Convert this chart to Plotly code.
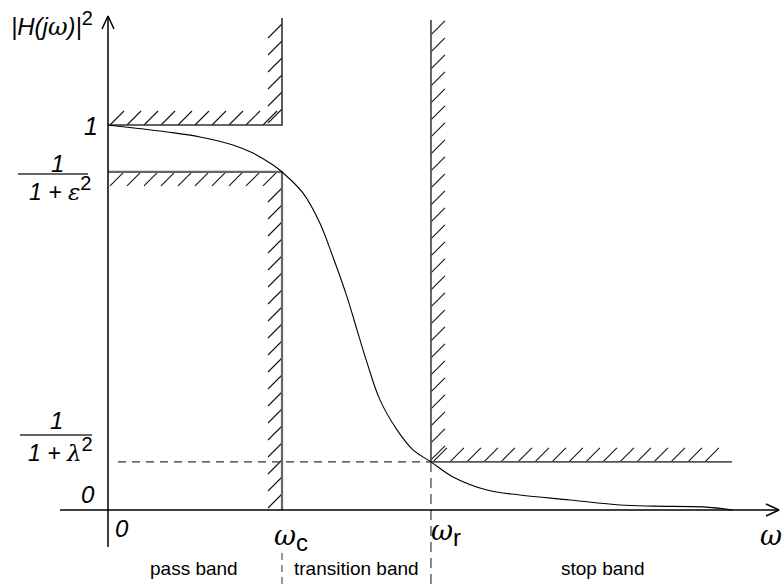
import plotly.graph_objects as go

# ---------------- data (diagram units: omega_c = 1, passband max = 1) ----------------
omega_c = 1.0
omega_r = 1.856
omega_stop_end = 3.586
level_pass = 1.0
level_eps = 0.878          # 1/(1+eps^2)
level_lam = 0.125          # 1/(1+lambda^2)

curve_w = [0.0, 0.339, 0.529, 0.718, 0.833, 0.948, 1.0, 1.121, 1.218, 1.293, 1.374,
           1.431, 1.489, 1.563, 1.661, 1.753, 1.856, 1.983, 2.178, 2.368, 2.655,
           2.943, 3.132, 3.420, 3.592]
curve_h = [1.0, 0.982, 0.969, 0.948, 0.927, 0.896, 0.878, 0.823, 0.745, 0.657, 0.553,
           0.468, 0.382, 0.286, 0.208, 0.156, 0.125, 0.086, 0.052, 0.039, 0.026,
           0.013, 0.010, 0.008, 0.0]

band_labels = ["pass band", "transition band", "stop band"]
band_centers = [0.495, 1.43, 2.84]

# ---------------- scales ----------------
W, H = 784, 585
X0PX, SX = 108, 174.0     # pixel of x=0, pixels per unit
Y0PX, SY = 510, 385.0     # pixel of y=0, pixels per unit
xr = [-X0PX / SX, (W - X0PX) / SX]
yr = [(Y0PX - H) / SY, Y0PX / SY]
px = 1 / SX
py = 1 / SY

fig = go.Figure()

def line(xs, ys, color="black", width=1.0, dash=None, shape="linear"):
    fig.add_trace(go.Scatter(x=xs, y=ys, mode="lines", hoverinfo="skip",
                             line=dict(color=color, width=width, dash=dash, shape=shape),
                             showlegend=False))

# ---------------- hatching ----------------
HL, HS = 14, 17  # stroke size and spacing in px
hx, hy = [], []

def hatch_h(x0, x1, y, side):
    n = int(((x1 - x0) / px - HL) // HS) + 1
    for i in range(n):
        xs = x0 + (2 + i * HS) * px
        if side == "above":
            hx.extend([xs, xs + HL * px, None]); hy.extend([y, y + HL * py, None])
        else:
            hx.extend([xs, xs + HL * px, None]); hy.extend([y - HL * py, y, None])

def hatch_v(x, y0, y1, side):
    n = int(((y1 - y0) / py - HL) // HS) + 1
    for i in range(n):
        ys = y0 + (2 + i * HS) * py
        if side == "right":
            hx.extend([x, x + HL * px, None]); hy.extend([ys, ys + HL * py, None])
        else:
            hx.extend([x - HL * px, x, None]); hy.extend([ys, ys + HL * py, None])

top_c = 1.278
top_r = 1.273
hatch_h(0, omega_c, level_pass, "above")
hatch_v(omega_c, level_pass, top_c, "left")
hatch_h(0, omega_c, level_eps, "below")
hatch_v(omega_c, 0, level_eps - 2 * py, "left")
hatch_v(omega_r, level_lam, top_r, "right")
hatch_h(omega_r, omega_stop_end, level_lam, "above")
line(hx, hy, color="#111", width=1.1)

# boundary lines
line([0, omega_c, omega_c], [level_pass, level_pass, top_c], color="#333", width=1.6)
line([0, omega_c, omega_c], [level_eps, level_eps, 0], color="#666", width=2.2)
line([omega_r, omega_r, omega_stop_end], [top_r, level_lam, level_lam], color="#555", width=1.8)

# dashed guides
line([10 * px, omega_r], [level_lam, level_lam], color="#333", width=1.2, dash="8px,6px")
line([omega_r, omega_r], [level_lam, yr[0]], color="#555", width=1.4, dash="10px,6px")
line([omega_c, omega_c], [(Y0PX - 553) / SY, yr[0]], color="#555", width=1.2, dash="7px,5px")

# axes
x_start, x_end = (60 - X0PX) / SX, (779 - X0PX) / SX
y_bottom, y_top = (Y0PX - 547) / SY, (Y0PX - 16) / SY
line([x_start, x_end], [0, 0], width=1.5)
line([0, 0], [y_bottom, y_top], width=1.5)
line([x_end - 13 * px, x_end, x_end - 13 * px], [6 * py, 0, -6 * py], width=1.5)
line([-6 * px, 0, 6 * px], [y_top - 13 * py, y_top, y_top - 13 * py], width=1.5)

# response curve
line(curve_w, curve_h, width=1.1, shape="spline")

# ---------------- text ----------------
SANS = "Liberation Sans, Arial, sans-serif"
SERIF = "DejaVu Serif, Liberation Serif, serif"

def txt(xp, yp, text, size=22, family=SANS, xanchor="center"):
    fig.add_annotation(x=(xp - X0PX) / SX, y=(Y0PX - yp) / SY, text=text, showarrow=False,
                       xanchor=xanchor, yanchor="middle",
                       font=dict(size=size, family=family, color="black"))

sup = "<sup><span style='font-size:20px'>2</span></sup>"
txt(52, 24, "<i>|H(j<span style='font-family:DejaVu Serif'>ω</span>)|</i>" + sup, size=24)
txt(91, 126, "<i>1</i>", size=25)
txt(57, 163, "<i>1</i>", size=24)
txt(60, 188, "<i>1 + <span style='font-family:DejaVu Serif'>ε</span></i>" + sup, size=23)
txt(56, 420, "<i>1</i>", size=24)
txt(60, 449, "<i>1 + <span style='font-family:DejaVu Serif'>λ</span></i>" + sup, size=23)
txt(88, 494, "<i>0</i>", size=24)
txt(122, 528, "<i>0</i>", size=24)
txt(291, 538, "<i>ω</i><sub><span style='font-family:Liberation Sans;font-size:24px'>c</span></sub>", size=27, family=SERIF)
txt(446, 533, "<i>ω</i><sub><span style='font-family:Liberation Sans;font-size:24px'>r</span></sub>", size=27, family=SERIF)
txt(771, 535, "<i>ω</i>", size=27, family=SERIF)

for lab, c in zip(band_labels, band_centers):
    fig.add_annotation(x=c, y=(Y0PX - 568) / SY, text=lab, showarrow=False,
                       font=dict(size=19, family=SANS, color="black"))

# fraction bars
for (xa, xb, yb) in [(18, 88, 174), (20, 92, 435)]:
    fig.add_shape(type="line", x0=(xa - X0PX) / SX, x1=(xb - X0PX) / SX,
                  y0=(Y0PX - yb) / SY, y1=(Y0PX - yb) / SY,
                  line=dict(color="#666", width=2))

fig.update_layout(width=W, height=H, margin=dict(l=0, r=0, t=0, b=0),
                  paper_bgcolor="white", plot_bgcolor="white", showlegend=False,
                  xaxis=dict(range=xr, visible=False, fixedrange=True),
                  yaxis=dict(range=yr, visible=False, fixedrange=True))
fig.write_html("out.html")
